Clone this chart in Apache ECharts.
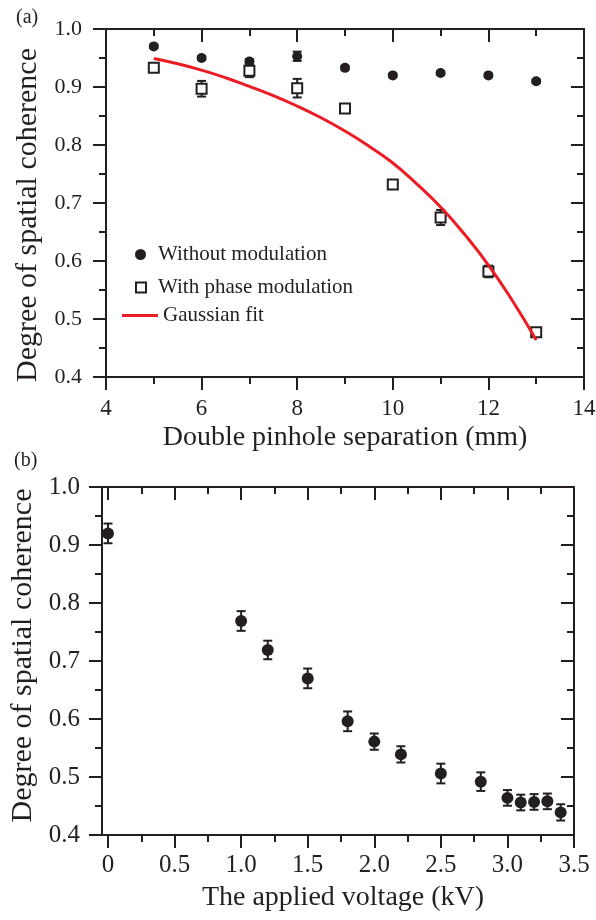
<!DOCTYPE html>
<html>
<head>
<meta charset="utf-8">
<script src="https://cdn.jsdelivr.net/npm/echarts@6.0.0/dist/echarts.min.js"></script>
<style>
  html, body { margin: 0; padding: 0; background: #fff; }
  #chart { width: 596px; height: 920px; }
</style>
</head>
<body>
<div id="chart"></div>
<script>
// (a) coherence vs double pinhole separation
const sepMm = [5, 6, 7, 8, 9, 10, 11, 12, 13];
const cohNoMod = [0.970, 0.950, 0.944, 0.953, 0.933, 0.920, 0.924, 0.920, 0.910];
const errNoMod = [0.003, 0.003, 0.004, 0.008, 0.003, 0.003, 0.003, 0.003, 0.003];
const cohPhaseMod = [0.933, 0.897, 0.928, 0.898, 0.863, 0.732, 0.675, 0.582, 0.477];
const errPhaseMod = [0.005, 0.0135, 0.011, 0.016, 0.003, 0.005, 0.013, 0.010, 0.006];
// fit curve, every 0.5 mm
const fitSepMm = [5, 5.5, 6, 6.5, 7, 7.5, 8, 8.5, 9, 9.5, 10, 10.5, 11, 11.5, 12, 12.5, 13];
const fitCoh = [0.949, 0.940, 0.929, 0.916, 0.901, 0.885, 0.867, 0.847, 0.824, 0.798,
  0.769, 0.733, 0.693, 0.646, 0.593, 0.532, 0.464];

// (b) coherence vs applied voltage
const voltKv = [0, 1.0, 1.2, 1.5, 1.8, 2.0, 2.2, 2.5, 2.8, 3.0, 3.1, 3.2, 3.3, 3.4];
const cohVolt = [0.920, 0.769, 0.719, 0.670, 0.596, 0.561, 0.539, 0.506, 0.492, 0.464, 0.456, 0.457, 0.458, 0.439];
const errVolt = [0.017, 0.017, 0.016, 0.017, 0.017, 0.014, 0.014, 0.017, 0.016, 0.0135, 0.0135, 0.0135, 0.0135, 0.014];

// tick labels for (b) x axis
const voltMajorTicks = [0, 0.5, 1.0, 1.5, 2.0, 2.5, 3.0, 3.5];
const voltMinorTicks = [0.25, 0.75, 1.25, 1.75, 2.25, 2.75, 3.25];

const INK = '#231f20';
const FONT = 'Liberation Serif';

const chart = echarts.init(document.getElementById('chart'), null, { renderer: 'canvas' });

// vertical error bar with caps; stem is skipped inside the marker
function errorBar(capHalf, markerHalf) {
  return function (params, api) {
    const x = api.value(0), y = api.value(1), e = api.value(2);
    const c = api.coord([x, y]);
    const hi = api.coord([x, y + e]);
    const lo = api.coord([x, y - e]);
    const style = { stroke: INK, lineWidth: 2, fill: null };
    const kids = [
      { type: 'line', shape: { x1: hi[0] - capHalf, y1: hi[1], x2: hi[0] + capHalf, y2: hi[1] }, style },
      { type: 'line', shape: { x1: lo[0] - capHalf, y1: lo[1], x2: lo[0] + capHalf, y2: lo[1] }, style },
    ];
    if (hi[1] < c[1] - markerHalf) {
      kids.push({ type: 'line', shape: { x1: c[0], y1: hi[1], x2: c[0], y2: c[1] - markerHalf }, style });
    }
    if (lo[1] > c[1] + markerHalf) {
      kids.push({ type: 'line', shape: { x1: c[0], y1: c[1] + markerHalf, x2: c[0], y2: lo[1] }, style });
    }
    return { type: 'group', children: kids };
  };
}

const line2 = { show: true, onZero: false, lineStyle: { color: INK, width: 2 } };
const tickStyle = { color: INK, width: 2 };
const labelStyle = (size) => ({ color: INK, fontFamily: FONT, fontSize: size });

const sepAxis = { type: 'value', gridIndex: 0, min: 4, max: 14, interval: 2, splitLine: { show: false } };
const cohAxis = (g) => ({ type: 'value', gridIndex: g, min: 0.4, max: 1.0, interval: 0.1, splitLine: { show: false } });
const voltAxis = { type: 'value', gridIndex: 1, min: -0.045, max: 3.5, splitLine: { show: false } };

const option = {
  animation: false,
  backgroundColor: '#fff',
  title: [
    { text: '(a)', left: 16, top: 8, padding: 0, textStyle: { ...labelStyle(20), fontWeight: 'normal' } },
    { text: '(b)', left: 14, top: 451, padding: 0, textStyle: { ...labelStyle(20), fontWeight: 'normal' } },
  ],
  legend: [
    {
      data: [{ name: 'Without modulation', icon: 'circle', itemStyle: { color: INK, opacity: 1 } }],
      left: 135, top: 244, padding: 0, itemWidth: 11, itemHeight: 11, selectedMode: false,
      textStyle: { ...labelStyle(21), padding: [0, 0, 0, 7] },
    },
    {
      data: [{ name: 'With phase modulation', icon: 'rect', itemStyle: { color: 'transparent', borderColor: INK, borderWidth: 2, opacity: 1 } }],
      left: 135, top: 277, padding: 0, itemWidth: 10, itemHeight: 10, selectedMode: false,
      textStyle: { ...labelStyle(21), padding: [0, 0, 0, 7] },
    },
    {
      data: [{ name: 'Gaussian fit', icon: 'rect', itemStyle: { color: '#ed1c24', opacity: 1 } }],
      left: 122, top: 305, padding: 0, itemWidth: 36, itemHeight: 3, selectedMode: false,
      textStyle: labelStyle(21),
    },
  ],
  grid: [
    { left: 106, top: 29, width: 478, height: 348, outerBoundsMode: 'none' },
    { left: 102, top: 487, width: 472, height: 348, outerBoundsMode: 'none' },
  ],
  xAxis: [
    {
      ...sepAxis, position: 'bottom',
      axisLine: line2,
      axisTick: { length: 13, lineStyle: tickStyle },
      minorTick: { show: true, splitNumber: 2, length: 7, lineStyle: tickStyle },
      axisLabel: { ...labelStyle(23), margin: 20 },
      name: 'Double pinhole separation (mm)', nameLocation: 'middle', nameGap: 47,
      nameTextStyle: labelStyle(28),
    },
    {
      ...sepAxis, position: 'top',
      axisLine: line2,
      axisTick: { inside: true, length: 13, lineStyle: tickStyle },
      minorTick: { show: true, splitNumber: 2, length: 7, lineStyle: tickStyle },
      axisLabel: { show: false },
    },
    {
      ...voltAxis, position: 'bottom',
      axisLine: line2,
      axisTick: { length: 13, lineStyle: tickStyle, customValues: voltMajorTicks },
      axisLabel: {
        ...labelStyle(25), margin: 18, customValues: voltMajorTicks,
        formatter: (v) => (v === 0 ? '0' : v.toFixed(1)),
      },
      name: 'The applied voltage (kV)', nameLocation: 'middle', nameGap: 49,
      nameTextStyle: { ...labelStyle(28), padding: [0, 0, 0, 10] },
    },
    {
      ...voltAxis, position: 'bottom',
      axisLine: { show: false, onZero: false },
      axisTick: { length: 7, lineStyle: tickStyle, customValues: voltMinorTicks },
      axisLabel: { show: false },
    },
    {
      ...voltAxis, position: 'top',
      axisLine: line2,
      axisTick: { inside: true, length: 13, lineStyle: tickStyle, customValues: voltMajorTicks },
      axisLabel: { show: false },
    },
    {
      ...voltAxis, position: 'top',
      axisLine: { show: false, onZero: false },
      axisTick: { inside: true, length: 7, lineStyle: tickStyle, customValues: voltMinorTicks },
      axisLabel: { show: false },
    },
  ],
  yAxis: [
    {
      ...cohAxis(0), position: 'left',
      axisLine: line2,
      axisTick: { length: 13, lineStyle: tickStyle },
      minorTick: { show: true, splitNumber: 2, length: 7, lineStyle: tickStyle },
      axisLabel: { ...labelStyle(22), margin: 24, formatter: (v) => v.toFixed(1) },
      name: 'Degree of spatial coherence', nameLocation: 'middle', nameGap: 62,
      nameTextStyle: { ...labelStyle(30), padding: [0, 24, 0, 0] },
    },
    {
      ...cohAxis(0), position: 'right',
      axisLine: line2,
      axisTick: { inside: true, length: 13, lineStyle: tickStyle },
      minorTick: { show: true, splitNumber: 2, length: 7, lineStyle: tickStyle },
      axisLabel: { show: false },
    },
    {
      ...cohAxis(1), position: 'left',
      axisLine: line2,
      axisTick: { length: 13, lineStyle: tickStyle },
      minorTick: { show: true, splitNumber: 2, length: 7, lineStyle: tickStyle },
      axisLabel: { ...labelStyle(25), margin: 22, formatter: (v) => v.toFixed(1) },
      name: 'Degree of spatial coherence', nameLocation: 'middle', nameGap: 63,
      nameTextStyle: { ...labelStyle(30), padding: [0, 0, 0, 11] },
    },
    {
      ...cohAxis(1), position: 'right',
      axisLine: line2,
      axisTick: { inside: true, length: 13, lineStyle: tickStyle },
      minorTick: { show: true, splitNumber: 2, length: 7, lineStyle: tickStyle },
      axisLabel: { show: false },
    },
  ],
  series: [
    {
      name: 'Without modulation', type: 'scatter', xAxisIndex: 0, yAxisIndex: 0,
      symbol: 'circle', symbolSize: 10, itemStyle: { color: INK, opacity: 1 },
      data: sepMm.map((x, i) => [x, cohNoMod[i]]),
    },
    {
      type: 'custom', xAxisIndex: 0, yAxisIndex: 0, renderItem: errorBar(4.5, 5),
      encode: { x: 0, y: 1 },
      data: sepMm.map((x, i) => [x, cohNoMod[i], errNoMod[i]]),
    },
    {
      name: 'With phase modulation', type: 'scatter', xAxisIndex: 0, yAxisIndex: 0,
      symbol: 'rect', symbolSize: 10,
      itemStyle: { color: '#fff', borderColor: INK, borderWidth: 2, opacity: 1 },
      data: sepMm.map((x, i) => [x, cohPhaseMod[i]]),
    },
    {
      type: 'custom', xAxisIndex: 0, yAxisIndex: 0, renderItem: errorBar(4.5, 5),
      encode: { x: 0, y: 1 },
      data: sepMm.map((x, i) => [x, cohPhaseMod[i], errPhaseMod[i]]),
    },
    {
      name: 'Gaussian fit', type: 'line', xAxisIndex: 0, yAxisIndex: 0,
      smooth: true, showSymbol: false, symbol: 'none',
      lineStyle: { color: '#ed1c24', width: 3 }, itemStyle: { color: '#ed1c24' },
      data: fitSepMm.map((x, i) => [x, fitCoh[i]]),
    },
    {
      type: 'scatter', xAxisIndex: 2, yAxisIndex: 2,
      symbol: 'circle', symbolSize: 12, itemStyle: { color: INK, opacity: 1 },
      data: voltKv.map((x, i) => [x, cohVolt[i]]),
    },
    {
      type: 'custom', xAxisIndex: 2, yAxisIndex: 2, renderItem: errorBar(4.5, 5),
      encode: { x: 0, y: 1 },
      data: voltKv.map((x, i) => [x, cohVolt[i], errVolt[i]]),
    },
  ],
};

chart.setOption(option);
</script>
</body>
</html>
